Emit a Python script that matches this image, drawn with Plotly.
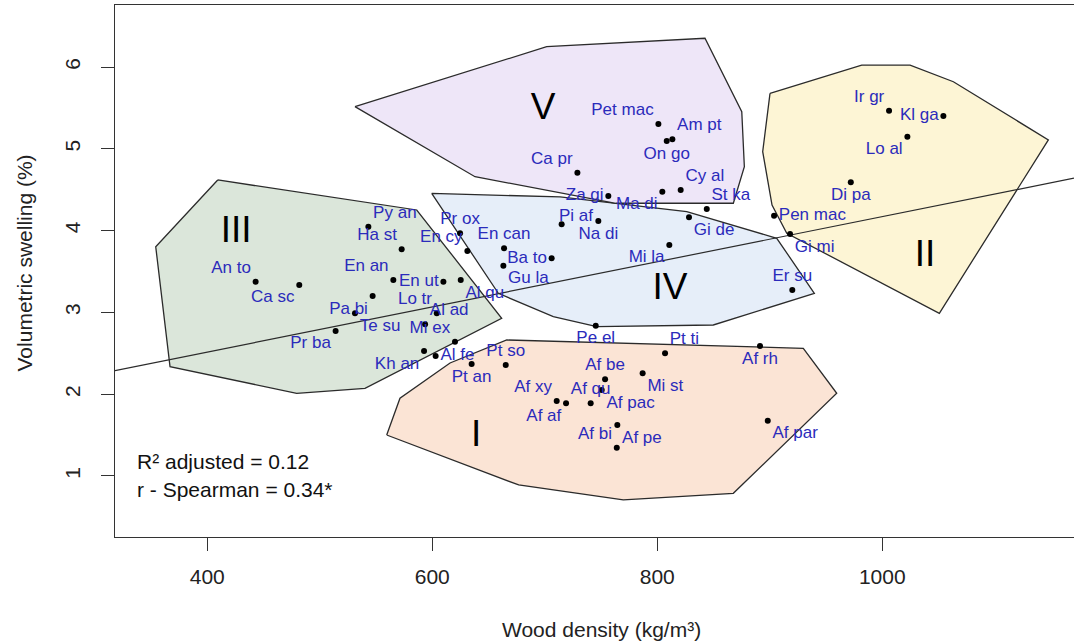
import plotly.graph_objects as go

# ---------------- data ----------------
species = ["An to", "Ca sc", "Py an", "Ha st", "En an", "Pa bi", "Te su", "Pr ba",
           "Lo tr", "Al ad", "Mi ex", "Kh an", "Al fe", "En ut",
           "Al qu", "Pr ox", "En cy", "En can", "Ba to", "Gu la", "Pi af", "Na di",
           "Mi la", "Pe el", "Er su", "Gi de",
           "Pet mac", "Am pt", "On go", "Ca pr", "Za gi", "Ma di", "Cy al", "St ka",
           "Ir gr", "Kl ga", "Lo al", "Di pa", "Pen mac", "Gi mi",
           "Pt an", "Pt so", "Af be", "Mi st", "Af qu", "Af pac", "Af xy", "Af af",
           "Af pe", "Af bi", "Pt ti", "Af rh", "Af par"]
density = [443.0, 481.8, 543.2, 572.8, 565.4, 547.0, 531.3, 514.1,
           604.0, 593.6, 620.2, 592.7, 603.0, 609.9,
           625.3, 624.7, 631.2, 663.8, 706.1, 663.2, 715.0, 747.6,
           810.7, 745.3, 920.0, 828.2,
           801.0, 813.4, 808.4, 729.0, 756.5, 804.5, 820.8, 844.0,
           1006.0, 1054.3, 1022.3, 972.0, 903.8, 918.0,
           635.0, 665.3, 753.6, 787.0, 740.8, 750.6, 710.6, 718.9,
           764.5, 764.0, 806.9, 891.3, 898.2]
swelling = [3.375, 3.335, 4.048, 3.771, 3.396, 3.200, 2.989, 2.773,
            2.989, 2.854, 2.642, 2.528, 2.467, 3.375,
            3.396, 3.967, 3.751, 3.783, 3.661, 3.571, 4.077, 4.117,
            3.824, 2.837, 3.274, 4.162,
            5.303, 5.116, 5.095, 4.708, 4.423, 4.476, 4.496, 4.264,
            5.466, 5.401, 5.148, 4.590, 4.182, 3.958,
            2.369, 2.357, 2.182, 2.255, 1.889, 2.051, 1.917, 1.889,
            1.623, 1.346, 2.500, 2.589, 1.676]
# label placement relative to each point ("custom" = drawn as a shifted annotation)
label_pos = ["top left", "bottom left", "top right", "top left", "top left", "bottom left", "bottom right", "bottom left",
             "top left", "top right", "top left", "bottom left", "middle right", "middle left",
             "bottom right", "top center", "top left", "top center", "middle left", "bottom right", "custom", "bottom center",
             "bottom left", "bottom center", "top center", "bottom right",
             "top left", "top right", "bottom center", "top left", "middle left", "bottom left", "top right", "top right",
             "top left", "middle left", "bottom left", "bottom center", "middle right", "bottom right",
             "bottom center", "top center", "top center", "bottom right", "top center", "bottom right", "top left", "bottom left",
             "bottom right", "top left", "top right", "bottom center", "bottom right"]

# group polygons (vertices in data units)
group_names = ["I", "II", "III", "IV", "V"]
poly_I_x = [559.5, 571.3, 615.8, 666.2, 929.8, 959.5, 867.6, 769.8, 676.8]
poly_I_y = [1.501, 1.950, 2.381, 2.663, 2.561, 2.011, 0.788, 0.707, 0.890]
poly_II_x = [900.2, 981.7, 1024.7, 1063.2, 1147.6, 1050.7, 915.1, 902.0, 893.7]
poly_II_y = [5.678, 6.024, 6.024, 5.820, 5.108, 2.989, 3.967, 4.313, 4.965]
poly_III_x = [409.3, 586.2, 661.7, 540.2, 479.5, 366.9, 354.2]
poly_III_y = [4.619, 4.252, 2.928, 2.072, 2.011, 2.336, 3.803]
poly_IV_x = [599.5, 713.6, 826.2, 906.2, 939.6, 849.8, 746.2, 707.6, 658.7]
poly_IV_y = [4.456, 4.411, 4.231, 3.906, 3.233, 2.846, 2.825, 2.947, 3.233]
poly_V_x = [531.3, 701.7, 842.4, 875.1, 877.4, 867.6, 763.1, 638.0]
poly_V_y = [5.515, 6.248, 6.351, 5.454, 4.781, 4.334, 4.334, 4.659]
group_label_x = [638.9, 1038.0, 425.6, 811.3, 698.4]
group_label_y = [1.477, 3.677, 3.971, 3.274, 5.474]

# regression line (intercept, slope)
reg_intercept = 1.411
reg_slope = 0.00276

x_ticks = [400, 600, 800, 1000]
y_ticks = [1, 2, 3, 4, 5, 6]
x_range = [318, 1170.4]
y_range = [0.254, 6.758]

stats_text = ["R² adjusted = 0.12", "r - Spearman = 0.34*"]

# ---------------- styles ----------------
FONT = "Arial, Liberation Sans, Helvetica, sans-serif"
fills = {"I": "#fbe4d5", "II": "#fdf5d5", "III": "#dbe6da", "IV": "#e6eef9", "V": "#eee6f8"}
EDGE = "#2b2b2b"
LABEL_BLUE = "#2b2bbb"

fig = go.Figure()

polys = {"III": (poly_III_x, poly_III_y), "IV": (poly_IV_x, poly_IV_y),
         "V": (poly_V_x, poly_V_y), "II": (poly_II_x, poly_II_y), "I": (poly_I_x, poly_I_y)}
for g, (px, py) in polys.items():
    fig.add_trace(go.Scatter(x=px + [px[0]], y=py + [py[0]], mode="lines", fill="toself",
                             fillcolor=fills[g], line=dict(color=EDGE, width=1.3),
                             hoverinfo="skip", showlegend=False))

# regression line across the full plot width
fig.add_trace(go.Scatter(x=x_range, y=[reg_intercept + reg_slope * v for v in x_range],
                         mode="lines", line=dict(color=EDGE, width=1.2),
                         hoverinfo="skip", showlegend=False))

# points with labels
scatter_text = [s if p != "custom" else "" for s, p in zip(species, label_pos)]
scatter_pos = [p if p != "custom" else "middle center" for p in label_pos]
fig.add_trace(go.Scatter(x=density, y=swelling, mode="markers+text", text=scatter_text,
                         hovertext=species, textposition=scatter_pos,
                         textfont=dict(family=FONT, size=17, color=LABEL_BLUE),
                         marker=dict(color="black", size=6),
                         showlegend=False))

# group numerals
fig.add_trace(go.Scatter(x=group_label_x, y=group_label_y, mode="text", text=group_names,
                         textfont=dict(family=FONT, size=37, color="black"),
                         textposition="middle center", hoverinfo="skip", showlegend=False))

annotations = [
    dict(x=335.8, y=1.171, xref="x", yref="y", text=stats_text[0], showarrow=False,
         xanchor="left", yanchor="middle", font=dict(family=FONT, size=21, color="#111")),
    dict(x=335.8, y=0.829, xref="x", yref="y", text=stats_text[1], showarrow=False,
         xanchor="left", yanchor="middle", font=dict(family=FONT, size=21, color="#111")),
    dict(x=0.5068, y=-0.1748, xref="paper", yref="paper", text="Wood density (kg/m³)",
         showarrow=False, xanchor="center", yanchor="middle",
         font=dict(family=FONT, size=21, color="#222")),
    dict(x=-0.0949, y=0.516, xref="paper", yref="paper", text="Volumetric swelling (%)",
         showarrow=False, xanchor="center", yanchor="middle", textangle=-90,
         font=dict(family=FONT, size=21, color="#222")),
]
# labels that need a custom small offset (slightly above-right of the point)
for s, xv, yv, p in zip(species, density, swelling, label_pos):
    if p == "custom":
        annotations.append(dict(x=xv, y=yv, xref="x", yref="y", text=s, showarrow=False,
                                xanchor="left", yanchor="middle", xshift=-5, yshift=9,
                                font=dict(family=FONT, size=17, color=LABEL_BLUE)))

fig.update_layout(
    width=1074, height=643,
    margin=dict(l=115, r=0, t=5, b=106),
    paper_bgcolor="white", plot_bgcolor="white",
    annotations=annotations,
    xaxis=dict(range=x_range, tickvals=x_ticks, ticks="outside", ticklen=13, tickwidth=1.2,
               tickcolor="#333", showline=True, linecolor="#333", linewidth=1.3, mirror=True,
               showgrid=False, zeroline=False, ticklabelstandoff=8,
               tickfont=dict(family=FONT, size=21, color="#222")),
    yaxis=dict(range=y_range, tickvals=y_ticks, ticks="outside", ticklen=13, tickwidth=1.2,
               tickcolor="#333", showline=True, linecolor="#333", linewidth=1.3,
               showgrid=False, zeroline=False, tickangle=-90, ticklabelstandoff=12,
               tickfont=dict(family=FONT, size=21, color="#222")),
)

fig.write_html("out.html")
